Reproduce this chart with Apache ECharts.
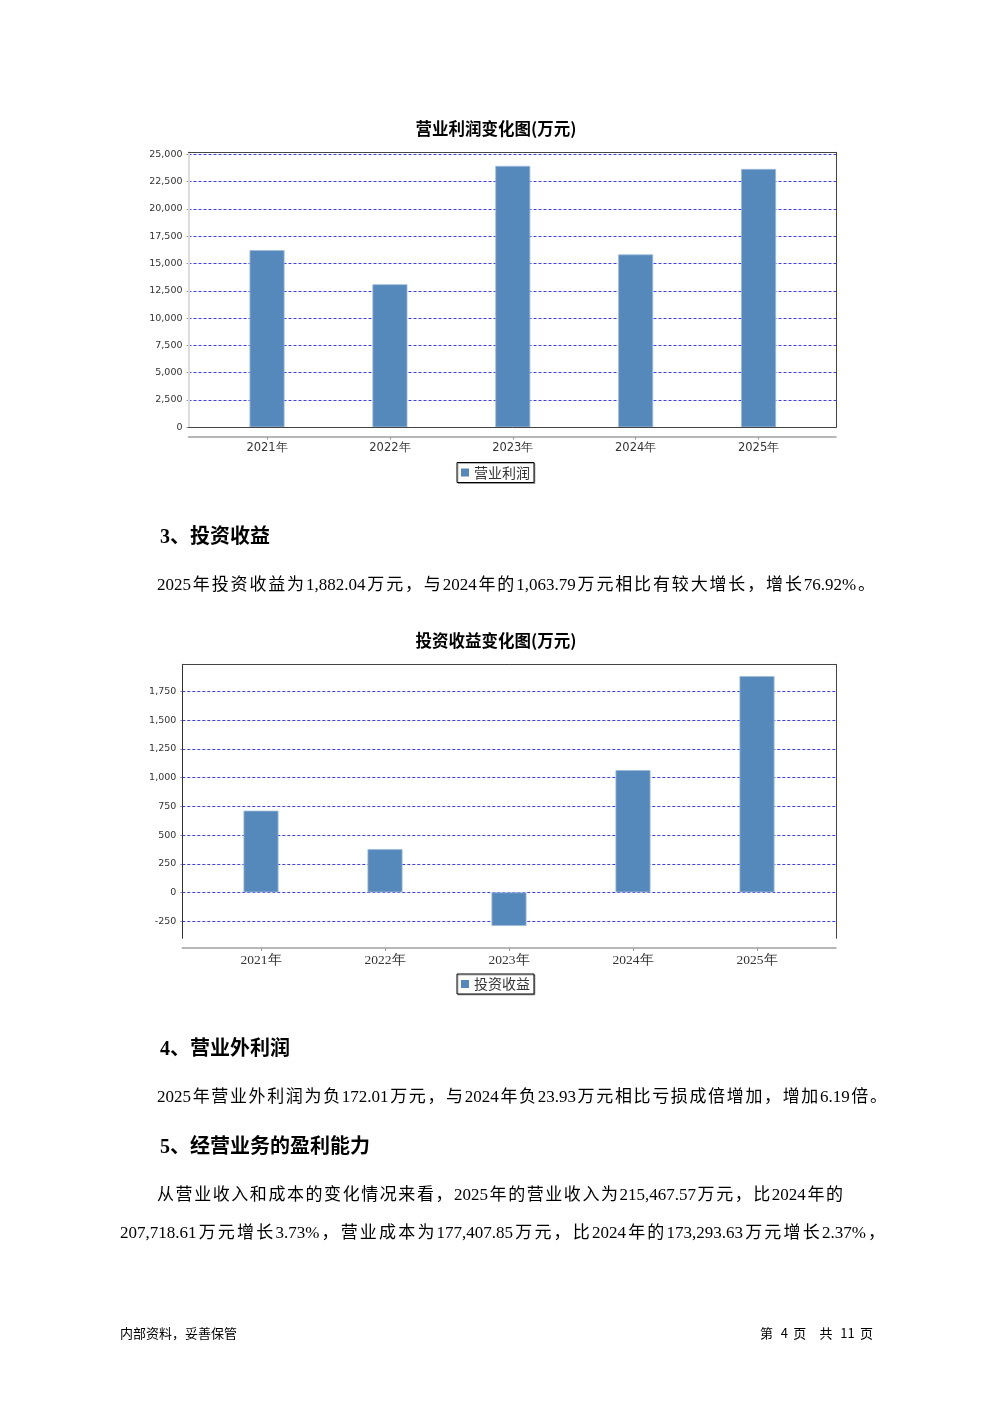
<!DOCTYPE html>
<html><head><meta charset="utf-8">
<script src="https://cdn.jsdelivr.net/npm/echarts@6/dist/echarts.min.js"></script>
<style>
html,body{margin:0;padding:0;background:#fff;}
#page{position:relative;width:992px;height:1403px;overflow:hidden;background:#fff;}
#chart{position:absolute;left:0;top:0;width:992px;height:1403px;}
.t{position:absolute;white-space:nowrap;font-family:"Liberation Serif","Noto Sans CJK SC",serif;color:#000;z-index:2;}
.j{text-align:justify;text-align-last:justify;}
.h{font-weight:bold;font-size:20px;line-height:24px;}
.p{font-size:17px;line-height:20px;}
.f{font-size:13px;line-height:16px;font-family:"Noto Sans CJK SC","Liberation Serif",sans-serif;}
</style></head>
<body><div id="page"><div id="chart"></div>
<div class="t h" style="left:160px;top:524px;">3、投资收益</div>
<div class="t p j" style="left:157px;top:575px;width:718px;">2025年投资收益为1,882.04万元，与2024年的1,063.79万元相比有较大增长，增长76.92%。</div>
<div class="t h" style="left:160px;top:1036px;">4、营业外利润</div>
<div class="t p j" style="left:157px;top:1087px;width:730px;">2025年营业外利润为负172.01万元，与2024年负23.93万元相比亏损成倍增加，增加6.19倍。</div>
<div class="t h" style="left:160px;top:1134px;">5、经营业务的盈利能力</div>
<div class="t p j" style="left:157px;top:1185px;width:686px;">从营业收入和成本的变化情况来看，2025年的营业收入为215,467.57万元，比2024年的</div>
<div class="t p j" style="left:120px;top:1223px;width:765px;">207,718.61万元增长3.73%，营业成本为177,407.85万元，比2024年的173,293.63万元增长2.37%，</div>
<div class="t f" style="left:120px;top:1325px;">内部资料，妥善保管</div>
<div class="t f j" style="left:760px;top:1325px;width:113px;">第 4 页 &nbsp;共 11 页</div>
</div>
<script>
// ---- data ----
const categories = ['2021年', '2022年', '2023年', '2024年', '2025年'];
const profitValues = [16220, 13100, 23940, 15830, 23660];
const investValues = [711, 377, -293, 1063.79, 1882.04];
const profitName = '营业利润';
const investName = '投资收益';
const profitTitle = '营业利润变化图(万元)';
const investTitle = '投资收益变化图(万元)';
const profitAxis = { min: 0, max: 25000, step: 2500 };
const investAxis = { min: -250, max: 1750, step: 250 };

// ---- styles ----
const BAR = '#5588bb';
const GRIDLINE = '#3c3cff';
const fmt = v => Number(v).toLocaleString('en-US');

function lineAxis(gridIndex, position, color, width, offset) {
  return {
    gridIndex, type: 'value', position, min: 0, max: 1, offset: offset || 0, z: 5,
    axisLine: { show: true, onZero: false, lineStyle: { color, width } },
    axisTick: { show: false }, axisLabel: { show: false }, splitLine: { show: false }
  };
}
function hiddenCat(gridIndex) {
  return { gridIndex, type: 'category', data: categories, show: false };
}
function labelCat(gridIndex, offset, family, size) {
  return {
    gridIndex, type: 'category', data: categories, position: 'bottom', offset,
    axisLine: { show: false, onZero: false },
    axisTick: { show: true, alignWithLabel: true, length: 3, lineStyle: { color: '#999' } },
    axisLabel: { show: true, margin: 5, fontSize: size, color: '#333', fontFamily: family },
    splitLine: { show: false }
  };
}
function gridLineAxis(gridIndex, ax) {
  return {
    gridIndex, type: 'value', position: 'left', min: ax.min, max: ax.max, interval: ax.step,
    axisLine: { show: false },
    axisTick: { show: true, length: 2, lineStyle: { color: '#999' } },
    axisLabel: { show: true, margin: 6, fontSize: 9.5, color: '#333', fontFamily: 'DejaVu Sans', formatter: fmt },
    splitLine: { show: true, lineStyle: { color: GRIDLINE, width: 1, type: [3, 2] } }
  };
}
function hiddenVal(gridIndex, min, max) {
  return { gridIndex, type: 'value', min, max, show: false, splitLine: { show: false } };
}
function legendAt(name, top) {
  return {
    data: [name], left: 457, top, icon: 'rect', itemWidth: 8, itemHeight: 8,
    itemStyle: { borderWidth: 0 },
    padding: [3, 4, 3, 4], borderColor: '#000', borderWidth: 1,
    shadowColor: 'rgba(0,0,0,0.3)', shadowOffsetX: 1, shadowOffsetY: 1, backgroundColor: '#fff',
    textStyle: { fontSize: 14, color: '#333', fontFamily: 'Noto Sans CJK SC' }
  };
}

const chart = echarts.init(document.getElementById('chart'), null, { renderer: 'canvas' });
chart.setOption({
  animation: false,
  backgroundColor: 'transparent',
  title: [
    { text: profitTitle, left: 'center', top: 120, padding: 0,
      textStyle: { fontSize: 16.5, fontWeight: 'bold', color: '#000', fontFamily: 'Noto Sans CJK SC' } },
    { text: investTitle, left: 'center', top: 632, padding: 0,
      textStyle: { fontSize: 16.5, fontWeight: 'bold', color: '#000', fontFamily: 'Noto Sans CJK SC' } }
  ],
  legend: [legendAt(profitName, 462.5), legendAt(investName, 974)],
  grid: [
    { left: 188.5, top: 152.3, width: 647.5, height: 275, containLabel: false }, // 0 box 1
    { left: 188.5, top: 154.3, width: 647.5, height: 273, containLabel: false }, // 1 gridlines 1
    { left: 205.6, top: 154.3, width: 614.4, height: 273, containLabel: false }, // 2 bars 1
    { left: 182.3, top: 664.3, width: 653.7, height: 274, containLabel: false }, // 3 box 2
    { left: 182.3, top: 691.3, width: 653.7, height: 230, containLabel: false }, // 4 gridlines 2
    { left: 199, top: 664.3, width: 620, height: 274, containLabel: false }     // 5 bars 2
  ],
  xAxis: [
    lineAxis(0, 'top', '#444', 1),
    lineAxis(0, 'bottom', '#444', 1),
    lineAxis(0, 'bottom', '#a0a0a0', 1.5, 9.4),
    hiddenCat(1),
    labelCat(2, 9.4, 'DejaVu Sans', 11.5),
    lineAxis(3, 'top', '#444', 1),
    lineAxis(3, 'bottom', '#a0a0a0', 1.5, 9.7),
    hiddenCat(4),
    labelCat(5, 9.7, 'Liberation Serif', 13.5)
  ],
  yAxis: [
    lineAxis(0, 'left', '#dddddd', 2),
    lineAxis(0, 'right', '#444', 1),
    gridLineAxis(1, profitAxis),
    hiddenVal(2, profitAxis.min, profitAxis.max),
    lineAxis(3, 'left', '#333', 1),
    lineAxis(3, 'right', '#444', 1),
    gridLineAxis(4, investAxis),
    hiddenVal(5, -400, 1985)
  ],
  series: [
    { name: profitName, type: 'bar', xAxisIndex: 4, yAxisIndex: 3, data: profitValues, barWidth: 35,
      itemStyle: { color: BAR, borderColor: '#9dbbd9', borderWidth: 0.8 } },
    { name: investName, type: 'bar', xAxisIndex: 8, yAxisIndex: 7, data: investValues, barWidth: 35,
      itemStyle: { color: BAR, borderColor: '#9dbbd9', borderWidth: 0.8 } }
  ]
});
</script>
</body></html>
